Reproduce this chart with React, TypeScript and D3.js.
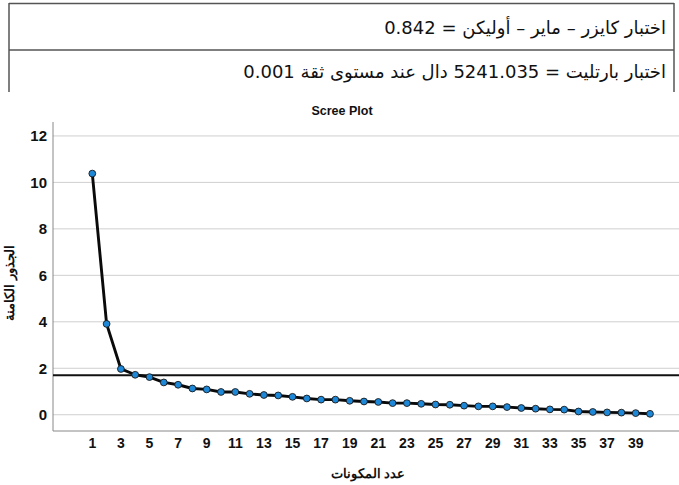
import React from "react";
import * as d3 from "d3";

const components: number[] = d3.range(1, 41);
const eigenvalues: number[] = [
  10.38, 3.91, 1.97, 1.72, 1.62, 1.39, 1.29, 1.13, 1.09, 0.98,
  0.98, 0.9, 0.85, 0.83, 0.77, 0.7, 0.65, 0.65, 0.6, 0.57,
  0.55, 0.5, 0.5, 0.47, 0.44, 0.43, 0.39, 0.36, 0.36, 0.33,
  0.29, 0.26, 0.23, 0.22, 0.14, 0.12, 0.1, 0.09, 0.07, 0.04,
];
const yTicks: number[] = [0, 2, 4, 6, 8, 10, 12];
const xTicks: number[] = d3.range(1, 40, 2);
const referenceValue = 1.7;
const tableRows: string[] = [
  "اختبار كايزر – ماير – أوليكن = 0.842",
  "اختبار بارتليت = 5241.035 دال عند مستوى ثقة 0.001",
];
const title = "Scree Plot";
const xLabel = "عدد المكونات";
const yLabel = "الجذور الكامنة";

const W = 679;
const H = 485;
const plotLeft = 53;
const plotRight = 679;
const plotTop = 122;
const plotBottom = 431;

export default function App() {
  const x = d3.scaleLinear().domain([1, 40]).range([92.3, 650]);
  const y = d3.scaleLinear().domain([-0.7, 12.6]).range([plotBottom, plotTop]);
  const line = d3
    .line<number>()
    .x((_, i) => x(components[i]))
    .y((d) => y(d));
  const arial = "'Liberation Sans', Arial, sans-serif";
  return (
    <svg
      width={W}
      height={H}
      style={{ position: "absolute", left: 0, top: 0, background: "#fff" }}
    >
      {/* table */}
      <g stroke="#555" strokeWidth={1.5} fill="none">
        <line x1={9} x2={674} y1={3.5} y2={3.5} />
        <line x1={9} x2={674} y1={50} y2={50} />
        <line x1={9} x2={9} y1={3} y2={92} />
        <line x1={674} x2={674} y1={3} y2={92} />
      </g>
      {tableRows.map((t, i) => (
        <text
          key={i}
          x={666}
          y={i === 0 ? 34 : 78}
          direction="rtl"
          textAnchor="start"
          fontFamily="'DejaVu Sans', sans-serif"
          fontSize={18}
          fill="#111"
        >
          {t}
        </text>
      ))}

      {/* title */}
      <text
        x={342}
        y={115}
        textAnchor="middle"
        fontFamily={arial}
        fontWeight="bold"
        fontSize={12.5}
        fill="#111"
      >
        {title}
      </text>

      {/* grid */}
      {yTicks.map((t) => (
        <line
          key={t}
          x1={plotLeft}
          x2={plotRight}
          y1={y(t)}
          y2={y(t)}
          stroke="#cfcfcf"
          strokeWidth={1}
        />
      ))}
      {/* axes */}
      <line x1={plotLeft} x2={plotLeft} y1={plotTop} y2={plotBottom} stroke="#888" strokeWidth={1} />
      <line x1={plotLeft} x2={plotRight} y1={plotBottom} y2={plotBottom} stroke="#888" strokeWidth={1} />

      {yTicks.map((t) => (
        <text
          key={t}
          x={47}
          y={y(t)}
          dy="0.36em"
          textAnchor="end"
          fontFamily={arial}
          fontWeight="bold"
          fontSize={15}
          fill="#111"
        >
          {t}
        </text>
      ))}
      {xTicks.map((t) => (
        <text
          key={t}
          x={x(t)}
          y={448}
          textAnchor="middle"
          fontFamily={arial}
          fontWeight="bold"
          fontSize={14}
          fill="#111"
        >
          {t}
        </text>
      ))}

      {/* reference line */}
      <line
        x1={plotLeft}
        x2={plotRight}
        y1={y(referenceValue)}
        y2={y(referenceValue)}
        stroke="#111"
        strokeWidth={2}
      />

      {/* series */}
      <path d={line(eigenvalues) || ""} fill="none" stroke="#0a0a0a" strokeWidth={2.9} strokeLinejoin="round" />
      {eigenvalues.map((v, i) => (
        <circle
          key={i}
          cx={x(components[i])}
          cy={y(v)}
          r={3.4}
          fill="#1e88d8"
          stroke="#1a1a1a"
          strokeWidth={0.9}
        />
      ))}

      {/* axis labels */}
      <text
        x={368}
        y={478}
        textAnchor="middle"
        direction="rtl"
        fontFamily={arial}
        fontWeight="bold"
        fontSize={12.5}
        fill="#111"
      >
        {xLabel}
      </text>
      <text
        transform={`translate(14, 283) rotate(-90)`}
        textAnchor="middle"
        direction="rtl"
        fontFamily={arial}
        fontWeight="bold"
        fontSize={12.5}
        fill="#111"
      >
        {yLabel}
      </text>
    </svg>
  );
}
